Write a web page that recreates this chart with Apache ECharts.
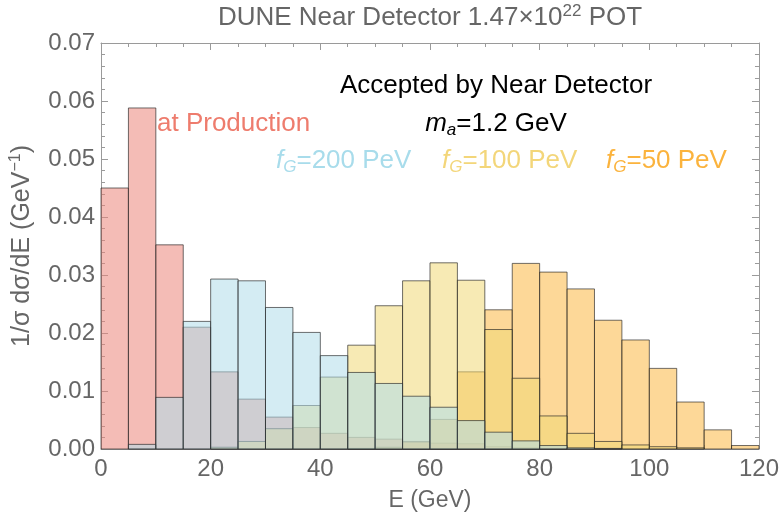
<!DOCTYPE html>
<html>
<head>
<meta charset="utf-8">
<script src="https://cdn.jsdelivr.net/npm/echarts@6/dist/echarts.min.js"></script>
<style>html,body{margin:0;padding:0;background:#fff}#c{width:782px;height:519px}</style>
</head>
<body>
<div id="c"></div>
<script>
// ---- data ----
const binStarts = [0,5,10,15,20,25,30,35,40,45,50,55,60,65,70,75,80,85,90,95,100,105,110,115];
const binWidth = 5;
const atProduction = [0.0450,0.0588,0.0352,0.0210,0.0133,0.0086,0.0055,0.0037,0.0027,0.0020,0.0017,0.0013,0.0010,0.0009,0.0004,0.0002,0.0001,0,0,0,0,0,0,0];
const fG200 = [0,0.0008,0.0089,0.0220,0.0293,0.0290,0.0244,0.0201,0.0161,0.0132,0.0113,0.0091,0.0072,0.0049,0.0029,0.0014,0.0006,0.0002,0.0001,0,0,0,0,0];
const fG100 = [0,0,0,0,0.0003,0.0013,0.0035,0.0075,0.0124,0.0179,0.0247,0.0290,0.0321,0.0291,0.0206,0.0122,0.0057,0.0027,0.0013,0.0007,0.0004,0.0002,0,0];
const fG50 = [0,0,0,0,0,0,0,0,0,0.0001,0.0003,0.0012,0.0051,0.0133,0.0240,0.0320,0.0305,0.0276,0.0222,0.0188,0.0139,0.0081,0.0033,0.0006];
const xTicks = [0,20,40,60,80,100,120];
const yTicks = [0,0.01,0.02,0.03,0.04,0.05,0.06,0.07];

const FONT = "'Liberation Sans', Arial, sans-serif";
const ALPHA = 0.55;
function histSeries(name, vals, rgb, z) {
  return {
    type: 'custom', name: name, z: z,
    xAxisIndex: 0, yAxisIndex: 0,
    data: vals.map((v, i) => [binStarts[i], binStarts[i] + binWidth, v]),
    encode: { x: [0, 1], y: 2 },
    renderItem: function (params, api) {
      const v = api.value(2);
      if (!(v > 0)) return null;
      const p0 = api.coord([api.value(0), 0]);
      const p1 = api.coord([api.value(1), v]);
      return {
        type: 'rect',
        shape: { x: p0[0], y: p1[1], width: p1[0] - p0[0], height: p0[1] - p1[1] },
        style: { fill: 'rgba(' + rgb + ',' + ALPHA + ')', stroke: 'rgba(35,35,35,0.65)', lineWidth: 1 }
      };
    }
  };
}

const xMin = xTicks[0], xMax = xTicks[xTicks.length - 1], xInt = xTicks[1] - xTicks[0];
const yMin = yTicks[0], yMax = yTicks[yTicks.length - 1], yInt = yTicks[1] - yTicks[0];
const frameColor = '#9a9a9a';
function xAx(pos, labels) {
  return {
    type: 'value', position: pos, min: xMin, max: xMax, interval: xInt,
    axisLine: { show: true, onZero: false, lineStyle: { color: frameColor, width: 1 } },
    axisTick: { show: true, inside: true, length: 7, lineStyle: { color: frameColor } },
    minorTick: { show: true, splitNumber: 4, length: 4, lineStyle: { color: frameColor } },
    splitLine: { show: false },
    axisLabel: { show: labels, color: '#666', fontSize: 24, fontFamily: FONT, margin: 8 },
    name: labels ? 'E (GeV)' : '', nameLocation: 'middle', nameGap: 40,
    nameTextStyle: { color: '#666', fontSize: 23, fontFamily: FONT }
  };
}
function yAx(pos, labels) {
  return {
    type: 'value', position: pos, min: yMin, max: yMax, interval: yInt,
    axisLine: { show: true, onZero: false, lineStyle: { color: frameColor, width: 1 } },
    axisTick: { show: true, inside: true, length: 7, lineStyle: { color: frameColor } },
    minorTick: { show: true, splitNumber: 5, length: 4, lineStyle: { color: frameColor } },
    splitLine: { show: false },
    axisLabel: { show: labels, color: '#666', fontSize: 24, fontFamily: FONT, margin: 6, formatter: v => v.toFixed(2) },
    name: labels ? '1/σ dσ/dE (GeV{sup|−1})' : '', nameLocation: 'middle', nameGap: 64,
    nameTextStyle: { color: '#666', fontSize: 25, fontFamily: FONT,
      rich: { sup: { fontSize: 16, color: '#666', fontFamily: FONT, padding: [0, 0, 13, 0] } } }
  };
}

const chart = echarts.init(document.getElementById('c'), null, { renderer: 'canvas' });
const FS = 26;
const sub = { fontSize: 17, fontFamily: FONT, padding: [13, 0, 0, 0] };
function fLabel(x, txt, col) {
  return { type: 'text', x: x, y: 161, z: 10, style: { text: '{i|f}{s|G}{n|' + txt + '}', textAlign: 'left', textVerticalAlign: 'middle',
    rich: { i: { fontSize: FS, fontStyle: 'italic', fontFamily: FONT, fill: col }, s: Object.assign({ fill: col, fontStyle: 'italic' }, sub), n: { fontSize: FS, fontFamily: FONT, fill: col } } } };
}
chart.setOption({
  animation: false,
  backgroundColor: '#fff',
  grid: { left: 101, right: 23, top: 43, bottom: 70 },
  xAxis: [xAx('bottom', true), xAx('top', false)],
  yAxis: [yAx('left', true), yAx('right', false)],
  series: [
    histSeries('at Production', atProduction, '235,133,122', 3),
    histSeries('fG=50 PeV', fG50, '251,184,68', 4),
    histSeries('fG=100 PeV', fG100, '240,217,119', 5),
    histSeries('fG=200 PeV', fG200, '177,220,233', 6)
  ],
  graphic: [
    { type: 'text', x: 430, y: 18, z: 10, style: { text: 'DUNE Near Detector 1.47×10{sup|22} POT', fill: '#666', font: FS + 'px ' + FONT, textAlign: 'center', textVerticalAlign: 'middle',
      rich: { sup: { fontSize: 17, fill: '#666', fontFamily: FONT, padding: [0, 0, 13, 0] } } } },
    { type: 'text', x: 496, y: 86, z: 10, style: { text: 'Accepted by Near Detector', fill: '#000', font: FS + 'px ' + FONT, textAlign: 'center', textVerticalAlign: 'middle' } },
    { type: 'text', x: 496, y: 124, z: 10, style: { text: '{i|m}{s|a}{n|=1.2 GeV}', fill: '#000', textAlign: 'center', textVerticalAlign: 'middle',
      rich: { i: { fontSize: FS, fontStyle: 'italic', fontFamily: FONT, fill: '#000' }, s: Object.assign({ fill: '#000', fontStyle: 'italic' }, sub), n: { fontSize: FS, fontFamily: FONT, fill: '#000' } } } },
    { type: 'text', x: 157, y: 124, z: 1, style: { text: 'at Production', fill: '#EE7C6D', font: FS + 'px ' + FONT, textAlign: 'left', textVerticalAlign: 'middle' } },
    fLabel(276, '=200 PeV', '#A8DCEB'),
    fLabel(442, '=100 PeV', '#F3D67A'),
    fLabel(606, '=50 PeV', '#FBB33D')
  ]
});
</script>
</body>
</html>
